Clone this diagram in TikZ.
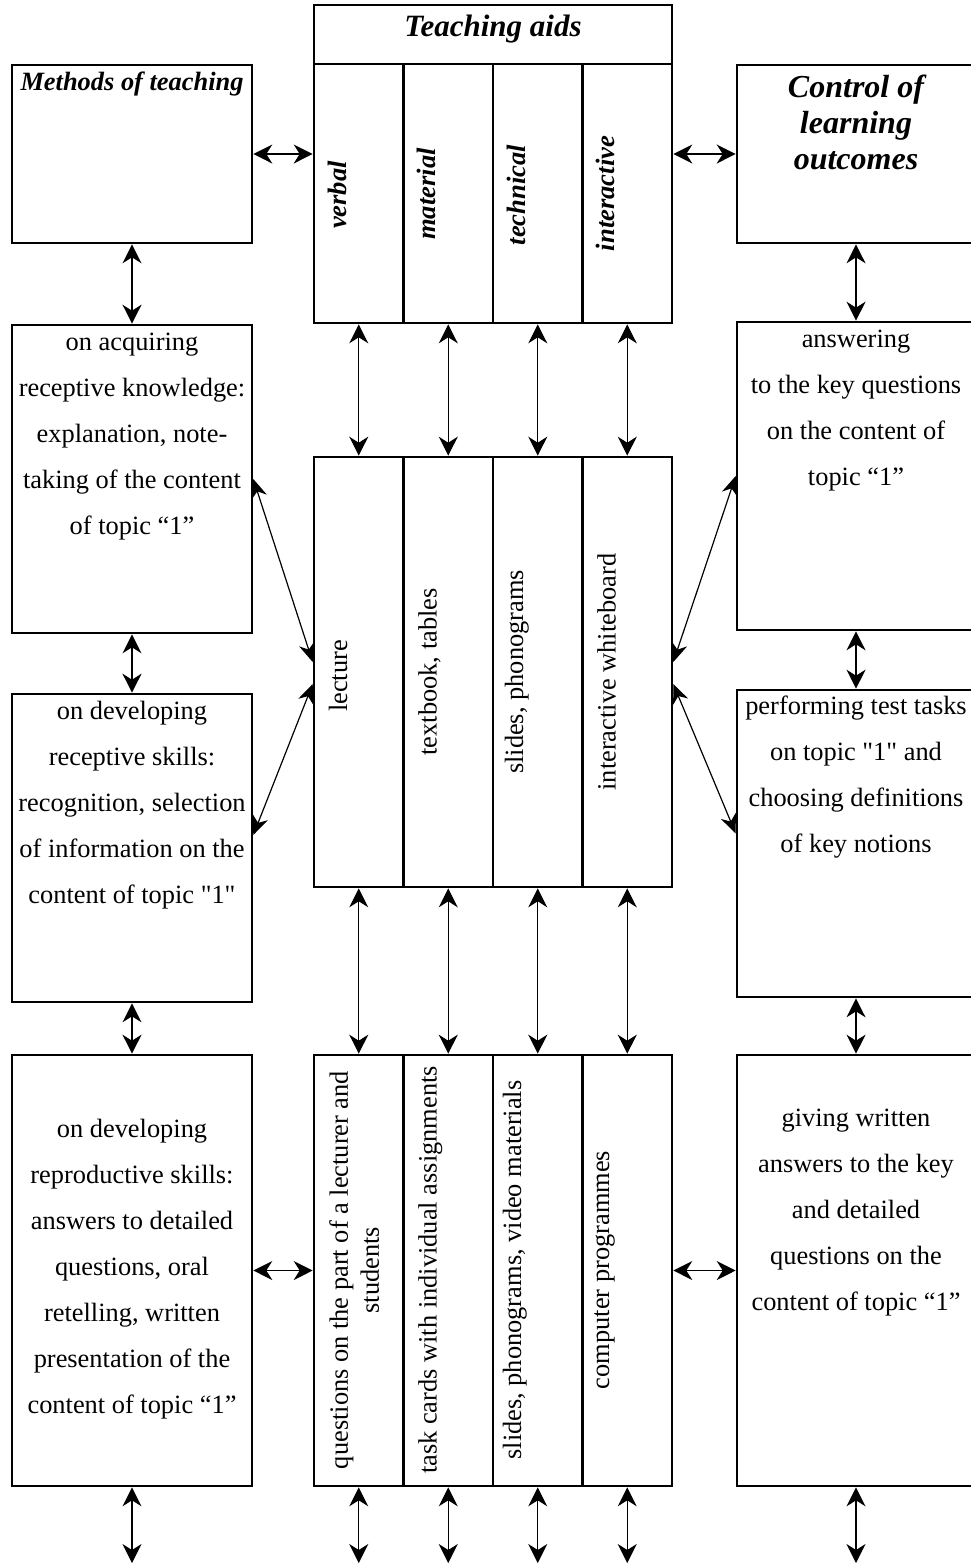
\documentclass[tikz,border=0pt]{standalone}
\usepackage{fontspec}
\setmainfont{Liberation Serif}[Ligatures=TeXOff]
\usetikzlibrary{arrows.meta}
\tikzset{
  box/.style={draw, line width=2.6pt, rectangle, inner sep=0pt, fill=white},
  arr/.style={line width=1.2pt, {Stealth[length=19pt,width=19pt,inset=6pt]}-{Stealth[length=19pt,width=19pt,inset=6pt]}},
  darr/.style={line width=1.2pt, {Stealth[length=19pt,width=16pt,inset=6pt]}-{Stealth[length=19pt,width=16pt,inset=6pt]}},
  txt/.style={inner sep=0pt, align=center, font=\fontsize{26.4}{46}\selectfont},
  rtxt/.style={inner sep=0pt, rotate=90, anchor=base, font=\fontsize{26.4}{31}\selectfont},
  bitxt/.style={inner sep=0pt, rotate=90, anchor=base, font=\fontsize{26.6}{31}\selectfont\bfseries\itshape},
}
\begin{document}
\begin{tikzpicture}[x=1pt,y=-1pt]
\useasboundingbox (0,0) rectangle (971,1564);
% side boxes
\node[box, minimum width=240pt, minimum height=178pt] (meth) at (132,154) {};
\node[box, minimum width=243pt, minimum height=178pt] (ctrl) at (858.5,154) {};
\node[box, minimum width=240pt, minimum height=308pt] (l1) at (132,479) {};
\node[box, minimum width=240pt, minimum height=308pt] (l2) at (132,848) {};
\node[box, minimum width=240pt, minimum height=431pt] (l3) at (132,1270.5) {};
\node[box, minimum width=243pt, minimum height=308pt] (r1) at (858.5,476) {};
\node[box, minimum width=243pt, minimum height=307pt] (r2) at (858.5,843.5) {};
\node[box, minimum width=243pt, minimum height=431pt] (r3) at (858.5,1270.5) {};
% teaching aids
\node[box, minimum width=358pt, minimum height=59pt] (tah) at (493,34.5) {};
\foreach \i/\x in {1/358.75,2/448.25,3/537.75,4/627.25}{
  \node[box, minimum width=89.5pt, minimum height=259pt] (ta\i) at (\x,193.5) {};
  \node[box, minimum width=89.5pt, minimum height=430pt] (mb\i) at (\x,672) {};
  \node[box, minimum width=89.5pt, minimum height=431pt] (mc\i) at (\x,1270.5) {};
  \coordinate (bot\i) at (\x,1563);
}
\coordinate (lbot) at (132,1563);
\coordinate (rbot) at (856,1563);
% headings
\node[inner sep=0pt, anchor=base, font=\fontsize{31}{36}\selectfont\bfseries\itshape] (taht) at (493,36) {Teaching aids};
\node[inner sep=0pt, anchor=base, font=\fontsize{26.4}{31}\selectfont\bfseries\itshape] (metht) at (132,90) {Methods of teaching};
\node[inner sep=0pt, anchor=north, align=center, font=\fontsize{32}{36}\selectfont\bfseries\itshape] (ctrlt) at (856,75) {Control of\\learning\\outcomes};
\node[bitxt] (ta1t) at (346,195) {verbal};
\node[bitxt] (ta2t) at (435.5,194) {material};
\node[bitxt] (ta3t) at (525,195) {technical};
\node[bitxt] (ta4t) at (614.5,193.5) {interactive};
% middle row
\node[rtxt] (mb1t) at (347,676) {lecture};
\node[rtxt] (mb2t) at (436.5,672) {textbook, tables};
\node[rtxt] (mb3t) at (523,672) {slides, phonograms};
\node[rtxt] (mb4t) at (615.5,672) {interactive whiteboard};
% bottom row
\node[inner sep=0pt, rotate=90, anchor=north, align=center, font=\fontsize{26.4}{31}\selectfont] (mc1t) at (329,1270) {questions on the part of a lecturer and\\students};
\node[rtxt] (mc2t) at (436.5,1270) {task cards with individual assignments};
\node[rtxt] (mc3t) at (521,1270) {slides, phonograms, video materials};
\node[rtxt] (mc4t) at (609,1270) {computer programmes};
% side texts
\node[txt, anchor=north] (l1t) at (132,333) {on acquiring\\receptive knowledge:\\explanation, note-\\taking of the content\\of topic “1”};
\node[txt, anchor=north] (l2t) at (132,701) {on developing\\receptive skills:\\recognition, selection\\of information on the\\content of topic "1"};
\node[txt, anchor=north] (l3t) at (132,1119) {on developing\\reproductive skills:\\answers to detailed\\questions, oral\\retelling, written\\presentation of the\\content of topic “1”};
\node[txt, anchor=north] (r1t) at (856,330) {answering\\to the key questions\\on the content of\\topic “1”};
\node[txt, anchor=north] (r2t) at (856,696) {performing test tasks\\on topic "1" and\\choosing definitions\\of key notions};
\node[txt, anchor=north] (r3t) at (856,1109) {giving written\\answers to the key\\and detailed\\questions on the\\content of topic “1”};
% connectors
\draw[arr] (meth.east) -- (meth.east -| ta1.west);
\draw[arr] (ctrl.west) -- (ctrl.west -| ta4.east);
\draw[arr] (meth.south) -- (l1.north);
\draw[arr] (l1.south) -- (l2.north);
\draw[arr] (l2.south) -- (l3.north);
\draw[arr] (l3.south) -- (lbot);
\draw[arr] (ctrl.south -| r1t) -- (r1.north -| r1t);
\draw[arr] (r1.south -| r1t) -- (r2.north -| r1t);
\draw[arr] (r2.south -| r1t) -- (r3.north -| r1t);
\draw[arr] (r3.south -| r1t) -- (rbot);
\foreach \i in {1,2,3,4}{
  \draw[arr] (ta\i.south) -- (mb\i.north);
  \draw[arr] (mb\i.south) -- (mc\i.north);
  \draw[arr] (mc\i.south) -- (bot\i);
}
\draw[darr] (l1.east) -- ([yshift=10pt]mb1.west);
\draw[darr] ([yshift=-12pt]mb1.west) -- ([yshift=13pt]l2.east);
\draw[darr] (r1.west) -- ([yshift=10pt]mb4.east);
\draw[darr] ([yshift=-12pt]mb4.east) -- ([yshift=10pt]r2.west);
\draw[arr] (l3.east) -- (mc1.west);
\draw[arr] (r3.west) -- (mc4.east);
\end{tikzpicture}
\end{document}
